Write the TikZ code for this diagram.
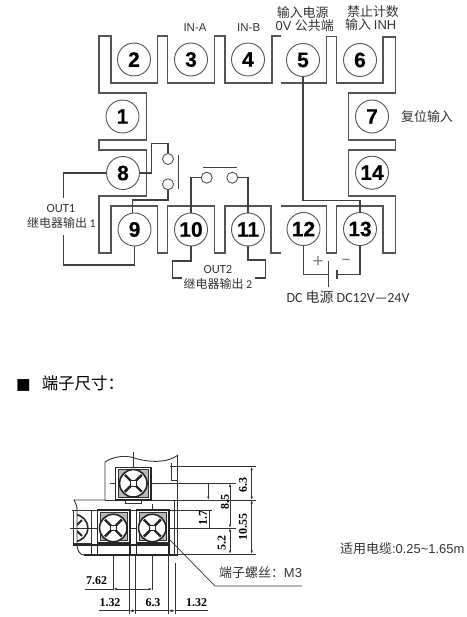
\documentclass[tikz,border=0pt]{standalone}
\usepackage{fontspec}
\setmainfont{Liberation Sans}
\newfontfamily\cjk{Noto Sans CJK SC}
\newfontfamily\cali{Carlito}
\newfontfamily\tms{Liberation Serif}
\newfontfamily\numfont[BoldFeatures={FakeBold=0.5}]{Liberation Sans}
\newfontfamily\symfont{DejaVu Sans}
\usetikzlibrary{arrows.meta}
\definecolor{wire}{gray}{0.33}
\definecolor{lab}{gray}{0.2}
\tikzset{
  x=1bp,y=-1bp,
  termnode/.style={circle,draw=wire,line width=.9bp,fill=white,minimum size=33bp,inner sep=0pt,font=\numfont\fontsize{21}{21}\selectfont\bfseries},
  contact/.style={circle,draw=wire,line width=.9bp,fill=white,minimum size=11bp,inner sep=0pt},
  shell/.style={draw=wire,line width=1.3bp,line join=miter},
  wireline/.style={draw=black!75,line width=1.1bp},
  toplab/.style={text=lab,inner sep=0pt,font=\fontsize{11.5}{12}\selectfont},
  cjklab/.style={text=lab,inner sep=0pt,font=\cjk\fontsize{13}{14}\selectfont},
  outlab/.style={text=lab,inner sep=0pt,font=\cjk\fontsize{12}{13}\selectfont},
  calilab/.style={text=lab,inner sep=0pt,font=\cali\fontsize{12.5}{13}\selectfont},
  signlab/.style={text=black!50,inner sep=0pt,font=\cali\fontsize{20}{20}\selectfont},
  draft/.style={draw=black!80,line width=.7bp},
  thick draft/.style={draw=black!85,line width=1.3bp},
  dim/.style={draft,{Latex[length=3.5bp,width=2.5bp]}-{Latex[length=3.5bp,width=2.5bp]}},
  dimtxt/.style={inner sep=0pt,font=\tms\bfseries\fontsize{12}{12}\selectfont},
}
\begin{document}
\begin{tikzpicture}
\useasboundingbox (0,0) rectangle (467,617);
% shell outline
\draw[shell] (281,36)-|(272,83)-|(225,36)-|(214.5,83)-|(167.5,36)-|(157.5,83)-|(111,36)-|(99,93)-|(146.7,140)-|(99,150)-|(146.7,196)-|(99,253)-|(111,206)-|(157.5,253)-|(167.5,206)-|(214.5,253)-|(225,206)-|(271,253)--(281,253);
\draw[shell] (281,83)-|(326.7,36.5)-|(336.7,83)-|(383,37)-|(395.3,93)-|(348.3,140)-|(395.3,150)-|(348.3,196)-|(395.3,253)-|(383,206)-|(336.7,253)-|(326.7,206)--(281,206);
% terminals
\foreach \n/\x/\y in {2/134/59.5,3/191/59.5,4/248/59.5,5/303/60,6/360/60,1/122.5/116.5,7/372/116.5,8/123/173,14/372/172.7,9/134.5/229.5,10/191/229.5,11/248/229.5,12/303.5/229,13/360/229}
  \node[termnode] (t\n) at (\x,\y) {\n};
% contacts
\node[contact] (ka) at (168,159) {};
\node[contact] (kb) at (168,184.3) {};
\node[contact] (kc) at (206.7,177.7) {};
\node[contact] (kd) at (232.3,177.7) {};
\coordinate (bara) at (178.5,155);
\coordinate (barb) at (178.5,189);
\coordinate (barc) at (203,167.3);
\coordinate (bard) at (237,167.3);
\draw[wireline] (bara)--(barb);
\draw[wireline] (barc)--(bard);
% relay wiring
\draw[wireline] (t8.east)--(151.5,173)|-(168,143.3)--(ka.north);
\draw[wireline] (kb.south)--(168,200)-|(132.5,213);
\draw[wireline] (t8.west)-|(63.7,198);
\coordinate (ouA) at (63.7,235);
\draw[wireline] (ouA)--(63.7,265)-|(t9.south);
\draw[wireline] (t10.north)|-(kc.west);
\draw[wireline] (kd.east)-|(t11.north);
\draw[wireline] (t10.south)--(191,261)-|(172.7,278)--(182,278);
\draw[wireline] (t11.south)--(248,260)-|(265.7,278)--(255,278);
\draw[wireline] (t5.south)--(303,200.7)-|(t13.north);
% battery
\coordinate (batA) at (328.3,261);
\coordinate (batB) at (328.3,286.7);
\coordinate (batC) at (336.7,270);
\coordinate (batD) at (336.7,279);
\draw[wireline] (batA)--(batB);
\draw[wireline,line width=1.6bp] (batC)--(batD);
\draw[wireline] (t12.south)|-(328.3,274.3);
\draw[wireline] (t13.south)|-(336.7,274.3);
\node[signlab] (plus) at (318,262) {+};
\node[signlab] (minus) at (346,262) {–};
% upper labels
\node[toplab] (ina) at (195,28) {IN-A};
\node[toplab] (inb) at (248.7,28) {IN-B};
\node[cjklab] (l5a) at (302.7,12.5) {输入电源};
\node[cjklab] (l5b) at (304.7,26) {\rmfamily 0V \cjk 公共端};
\node[cjklab] (l6a) at (373,12) {禁止计数};
\node[cjklab] (l6b) at (370.7,25) {输入 \rmfamily INH};
\node[cjklab] (l7) at (427,117) {复位输入};
\node[calilab] (o1a) at (61,209) {OUT1};
\node[outlab] (o1b) at (61.5,223) {继电器输出 \cali 1};
\node[calilab] (o2a) at (218,270) {OUT2};
\node[outlab] (o2b) at (218,284) {继电器输出 \cali 2};
\node[cjklab,font=\cjk\fontsize{14}{14}\selectfont] (dc) at (348,297) {\cali DC \cjk 电源 \cali DC12V—24V};
% heading
\node[anchor=west,inner sep=0pt,font=\cjk\fontsize{16.5}{17}\selectfont] (head) at (16,383.5) {{\symfont\fontsize{15.5}{16}\selectfont ■}\hspace{11bp}端子尺寸：};
% lower drawing: outline
\draw[draft,line width=.9bp] (105,500)--(105,462) .. controls (112,457) and (124,455) .. (133,457.5) .. controls (142,461) and (165,465) .. (178,455);
\draw[draft,line width=.9bp] (105,500)--(74,500) .. controls (76,504) and (77,506) .. (77,510)--(77,545) .. controls (77,550) and (80,555) .. (84,555);
\draw[thick draft,line width=1.7bp] (84,555)--(178,555);
\draw[draft,line width=.9bp] (171.7,463)--(171.7,480)--(177.3,480);
\draw[draft] (170,466.7)--(256,466.7);
\draw[draft] (177.3,455)--(177.3,555);
\draw[draft] (174.3,500)--(174.3,555);
% horizontal references
\draw[draft] (152,483.3)--(236,483.3);
\draw[draft,line width=.9bp] (105,500)--(256,500);
\draw[draft] (72,510)--(212,510);
\draw[draft] (70,528)--(236,528);
\draw[draft] (178,554)--(256,554);
% screws
\foreach \nm/\cx/\cy/\xa/\xb/\ya/\yb in {sa/133.3/483.3/115.7/151/467.3/500,sb/113.3/528/97.7/130/510/543,sc/152.3/528/136.7/169/510/543}{
  \draw[thick draft,fill=white] (\xa,\ya) rectangle (\xb,\yb);
  \draw[draft,line width=1.2bp,fill=black!28] (\xa+2.5,\ya+2.5) rectangle (\xb-2.5,\yb-2.5);
  \node[circle,draw=black!85,line width=1.6bp,fill=white,minimum size=27.5bp,inner sep=0pt] (\nm) at (\cx,\cy) {};
  \draw[line width=2.4bp,black!85] (\cx-8.5,\cy-8.5)--(\cx-2.5,\cy-2.5) (\cx+8.5,\cy-8.5)--(\cx+2.5,\cy-2.5) (\cx-8.5,\cy+8.5)--(\cx-2.5,\cy+2.5) (\cx+8.5,\cy+8.5)--(\cx+2.5,\cy+2.5);
  \draw[line width=.8bp,black!85] (\cx-2.8,\cy-2.8) rectangle (\cx+2.8,\cy+2.8);
}
\draw[draft] (73,510) rectangle (91.7,543);
\begin{scope}
\clip (77,505) rectangle (92,545);
\draw[thick draft,line width=1.6bp] (74.3,528) circle (13.5);
\draw[line width=2bp,black!85] (82,520)--(77,525) (82,536)--(77,531);
\end{scope}
\draw[thick draft] (91.7,543)--(91.7,555) (97.7,543)--(97.7,555) (130,543)--(130,555) (136.7,543)--(136.7,555) (169,543)--(169,555);
\draw[thick draft] (73,545)--(169,545);
\draw[draft] (133.3,452)--(133.3,467) (110,483.3)--(116,483.3);
\draw[draft] (125,500) rectangle (141,503);
\draw[draft] (152.3,504)--(152.3,510);
% vertical references
\draw[draft] (113.3,555)--(113.3,590);
\draw[draft] (152.3,555)--(152.3,590);
\draw[draft] (129.3,555)--(129.3,614);
\draw[draft] (135.7,555)--(135.7,614);
\draw[draft] (168.3,555)--(168.3,614);
\draw[draft] (175,563)--(175,614);
\draw[draft] (209,510)--(209,528);
% dimensions
\draw[draft] (85,589)--(113.3,589);
\draw[dim] (113.3,589)--(152.3,589);
\draw[draft] (99,610.7)--(129.3,610.7);
\draw[dim] (129.3,610.7)--(135.7,610.7);
\draw[draft] (135.7,610.7)--(168.3,610.7);
\draw[dim] (168.3,610.7)--(175,610.7);
\draw[draft] (175,610.7)--(208,610.7);
\draw[draft,-{Latex[length=3.5bp,width=2.5bp]}] (208.3,483.3)--(208.3,500);
\draw[dim] (230,483.3)--(230,528);
\draw[dim] (230,528)--(230,554);
\draw[dim] (251.7,466.7)--(251.7,500);
\draw[dim] (251.7,500)--(251.7,554);
\node[dimtxt] (d762) at (96.7,581) {7.62};
\node[dimtxt] (d132a) at (110,603) {1.32};
\node[dimtxt] (d63b) at (153,603) {6.3};
\node[dimtxt] (d132b) at (196.7,603) {1.32};
\node[dimtxt,rotate=90] (d17) at (203,518) {1.7};
\node[dimtxt,rotate=90] (d85) at (225,501.7) {8.5};
\node[dimtxt,rotate=90] (d52) at (221.7,543) {5.2};
\node[dimtxt,rotate=90] (d63) at (243,485) {6.3};
\node[dimtxt,rotate=90] (d1055) at (243,526.7) {10.55};
% leader
\coordinate (ldA) at (168,538);
\coordinate (ldB) at (215,586);
\coordinate (ldC) at (302,586);
\draw[draft] (ldA)--(ldB)--(ldC);
\node[anchor=west,inner sep=0pt,text=lab,font=\cjk\fontsize{13}{14}\selectfont] (scr) at (219,573) {端子螺丝：\rmfamily M3};
\node[anchor=west,inner sep=0pt,text=lab,font=\cjk\fontsize{13}{14}\selectfont] (cable) at (340,549) {适用电缆\rmfamily :0.25\char`~1.65m};
\end{tikzpicture}
\end{document}
